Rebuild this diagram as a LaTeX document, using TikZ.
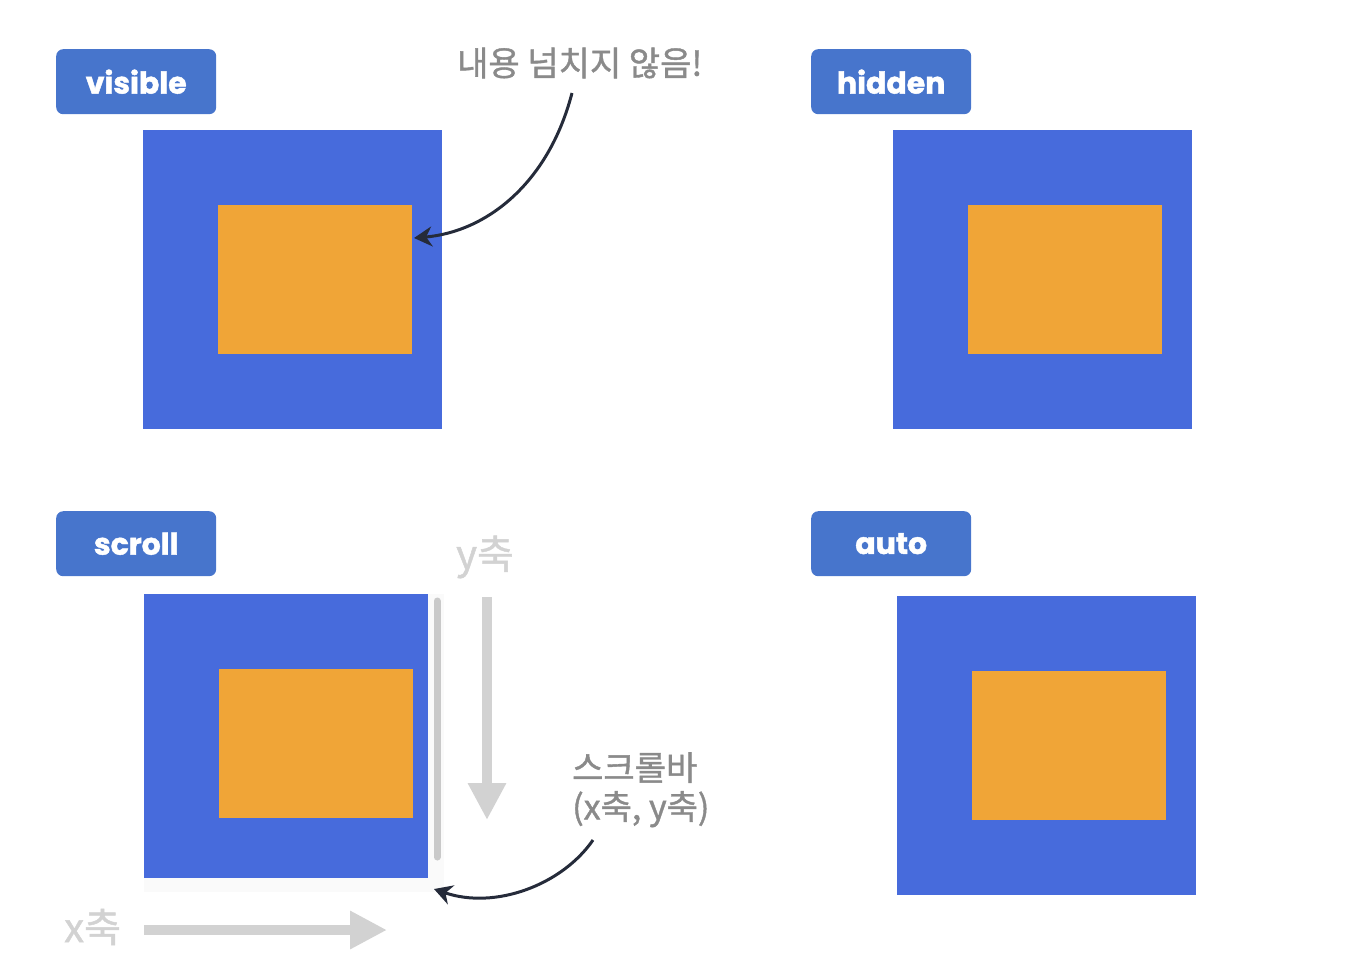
\documentclass[tikz,border=0pt]{standalone}
\usepackage{fontspec}
\newfontfamily\popfont{Poppins}[BoldFeatures={FakeBold=1.5}]
\newfontfamily\kr{Noto Sans CJK KR}[FakeBold=1.2]
\usetikzlibrary{arrows.meta}
\definecolor{tagblue}{HTML}{4775CC}
\definecolor{boxblue}{HTML}{476BDC}
\definecolor{boxorange}{HTML}{F0A537}
\definecolor{notegray}{HTML}{8A8A8A}
\definecolor{axisgray}{HTML}{D2D2D2}
\definecolor{pointer}{HTML}{252B3A}
\tikzset{
  tag/.style={fill=tagblue, rounded corners=7pt, minimum width=160pt, minimum height=65pt, inner sep=0pt, anchor=north west, text=white, font=\popfont\bfseries\fontsize{30}{32}\selectfont},
  outerbox/.style={fill=boxblue, minimum width=299pt, minimum height=299pt, inner sep=0pt, anchor=north west},
  innerbox/.style={fill=boxorange, minimum width=194pt, minimum height=149pt, inner sep=0pt, anchor=north west},
  note/.style={text=notegray, font=\kr\fontsize{34}{39}\selectfont, inner sep=0pt, align=left},
  axislabel/.style={text=axisgray, font=\kr\fontsize{40}{44}\selectfont, inner sep=0pt},
  axisarrow/.style={draw=axisgray, line width=10pt, -{Triangle[width=36pt,length=37pt]}},
  pointarrow/.style={draw=pointer, line width=3pt, -{Stealth[width=20pt,length=18pt]}},
}
\begin{document}
\begin{tikzpicture}[x=1pt,y=-1pt]
\useasboundingbox (0,0) rectangle (1349,975);
% visible
\node[tag] (tvis) at (56,49) {visible};
\node[outerbox] (bvis) at (143,130) {};
\node[innerbox] (ovis) at (218,205) {};
\node[note, anchor=west] (nvis) at (457,63) {내용 넘치지 않음!};
\coordinate (pvis) at (414,238);
\coordinate (svis) at (572,93);
\draw[pointarrow] (svis) .. controls (548,185) and (485,232) .. (pvis);
% hidden
\node[tag] (thid) at (811,49) {hidden};
\node[outerbox] (bhid) at (893,130) {};
\node[innerbox] (ohid) at (968,205) {};
% scroll
\node[tag] (tscr) at (56,511) {scroll};
\fill[gray!4] (144,878) rectangle (444,892);
\fill[gray!4] (428,594) rectangle (444,892);
\node[fill=boxblue, minimum width=284pt, minimum height=284pt, inner sep=0pt, anchor=north west] (bscr) at (144,594) {};
\node[innerbox] (oscr) at (219,669) {};
\draw[line width=7pt, color=gray!42, line cap=round] (437,601) -- (437,857);
\node[axislabel, anchor=west] (ylab) at (456,557) {y축};
\coordinate (ys) at (487,597);
\coordinate (ye) at (487,820);
\draw[axisarrow] (ys) -- (ye);
\node[axislabel, anchor=west] (xlab) at (64,927) {x축};
\coordinate (xs) at (144,930);
\coordinate (xe) at (387,930);
\draw[axisarrow] (xs) -- (xe);
\node[note, anchor=north west] (nscr) at (572,752) {스크롤바\\(x축, y축)};
\coordinate (sscr) at (593,840);
\coordinate (pscr) at (434,889);
\draw[pointarrow] (sscr) .. controls (562,885) and (495,910) .. (pscr);
% auto
\node[tag] (taut) at (811,511) {auto};
\node[outerbox] (baut) at (897,596) {};
\node[innerbox] (oaut) at (972,671) {};
\end{tikzpicture}
\end{document}
